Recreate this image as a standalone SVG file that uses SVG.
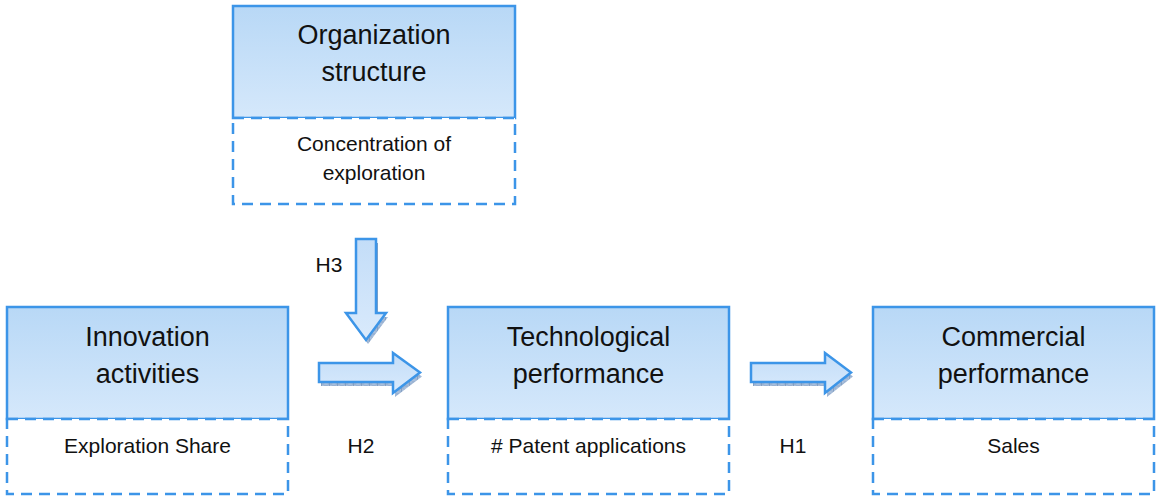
<svg xmlns="http://www.w3.org/2000/svg" width="1156" height="498" viewBox="0 0 1156 498">
  <defs>
    <linearGradient id="headFill" x1="0" y1="0" x2="0" y2="1">
      <stop offset="0" stop-color="#b8d8f6"/>
      <stop offset="1" stop-color="#d5e8fb"/>
    </linearGradient>
    <linearGradient id="arrowFill" x1="0" y1="0" x2="0" y2="1">
      <stop offset="0" stop-color="#c3ddf8"/>
      <stop offset="1" stop-color="#d9eafc"/>
    </linearGradient>
    <pattern id="hatch" width="8" height="4" patternUnits="userSpaceOnUse">
      <rect width="8" height="4" fill="#93afd2"/>
      <path d="M0,0 L8,4 M0,4 L8,0" stroke="#7797c0" stroke-width="0.8"/>
      <path d="M7.5,0 V4" stroke="#6688b3" stroke-width="1"/>
    </pattern>
    <style>
      .head { fill: url(#headFill); stroke: #3c95e8; stroke-width: 2.5; }
      .sub { fill: #ffffff; stroke: #3c95e8; stroke-width: 2.5; stroke-dasharray: 11 7; }
      .title { font-family: "Liberation Sans", Arial, sans-serif; font-size: 27px; fill: #111; text-anchor: middle; }
      .label { font-family: "Liberation Sans", Arial, sans-serif; font-size: 21px; fill: #111; text-anchor: middle; }
      .arrow { fill: url(#arrowFill); stroke: #3c95e8; stroke-width: 2.5; stroke-linejoin: miter; }
      .shadow { fill: url(#hatch); opacity: 0.8; }
    </style>
  </defs>

  <!-- Organization structure -->
  <g id="org-structure">
    <rect class="head" x="233" y="6" width="282" height="112"/>
    <rect class="sub" x="233" y="118" width="282" height="86"/>
    <text class="title" x="374" y="44">Organization</text>
    <text class="title" x="374" y="81">structure</text>
    <text class="label" x="374" y="151">Concentration of</text>
    <text class="label" x="374" y="180">exploration</text>
  </g>

  <!-- Innovation activities -->
  <g id="innovation">
    <rect class="head" x="7" y="307" width="281" height="112"/>
    <rect class="sub" x="7" y="419" width="281" height="75"/>
    <text class="title" x="147.5" y="346">Innovation</text>
    <text class="title" x="147.5" y="383">activities</text>
    <text class="label" x="147.5" y="453">Exploration Share</text>
  </g>

  <!-- Technological performance -->
  <g id="technological">
    <rect class="head" x="448" y="307" width="281" height="112"/>
    <rect class="sub" x="448" y="419" width="281" height="75"/>
    <text class="title" x="588.5" y="346">Technological</text>
    <text class="title" x="588.5" y="383">performance</text>
    <text class="label" x="588.5" y="453"># Patent applications</text>
  </g>

  <!-- Commercial performance -->
  <g id="commercial">
    <rect class="head" x="873" y="307" width="281" height="112"/>
    <rect class="sub" x="873" y="419" width="281" height="75"/>
    <text class="title" x="1013.5" y="346">Commercial</text>
    <text class="title" x="1013.5" y="383">performance</text>
    <text class="label" x="1013.5" y="453">Sales</text>
  </g>

  <!-- Block arrows with hypothesis labels -->
  <g id="connectors">
    <g id="h3">
      <path class="shadow" transform="translate(2,4)" d="M356,239 H376 V313 H386 L366,340 L346,313 H356 Z"/>
      <path class="arrow" d="M356,239 H376 V313 H386 L366,340 L346,313 H356 Z"/>
      <text class="label" x="329" y="272">H3</text>
    </g>
    <g id="h2">
      <path class="shadow" transform="translate(2,4)" d="M319,363 H393 V353 L420,372.5 L393,393 V382 H319 Z"/>
      <path class="arrow" d="M319,363 H393 V353 L420,372.5 L393,393 V382 H319 Z"/>
      <text class="label" x="361" y="453">H2</text>
    </g>
    <g id="h1">
      <path class="shadow" transform="translate(2,4)" d="M751,363 H825 V353 L851,372.5 L825,393 V382 H751 Z"/>
      <path class="arrow" d="M751,363 H825 V353 L851,372.5 L825,393 V382 H751 Z"/>
      <text class="label" x="793" y="453">H1</text>
    </g>
  </g>
</svg>
